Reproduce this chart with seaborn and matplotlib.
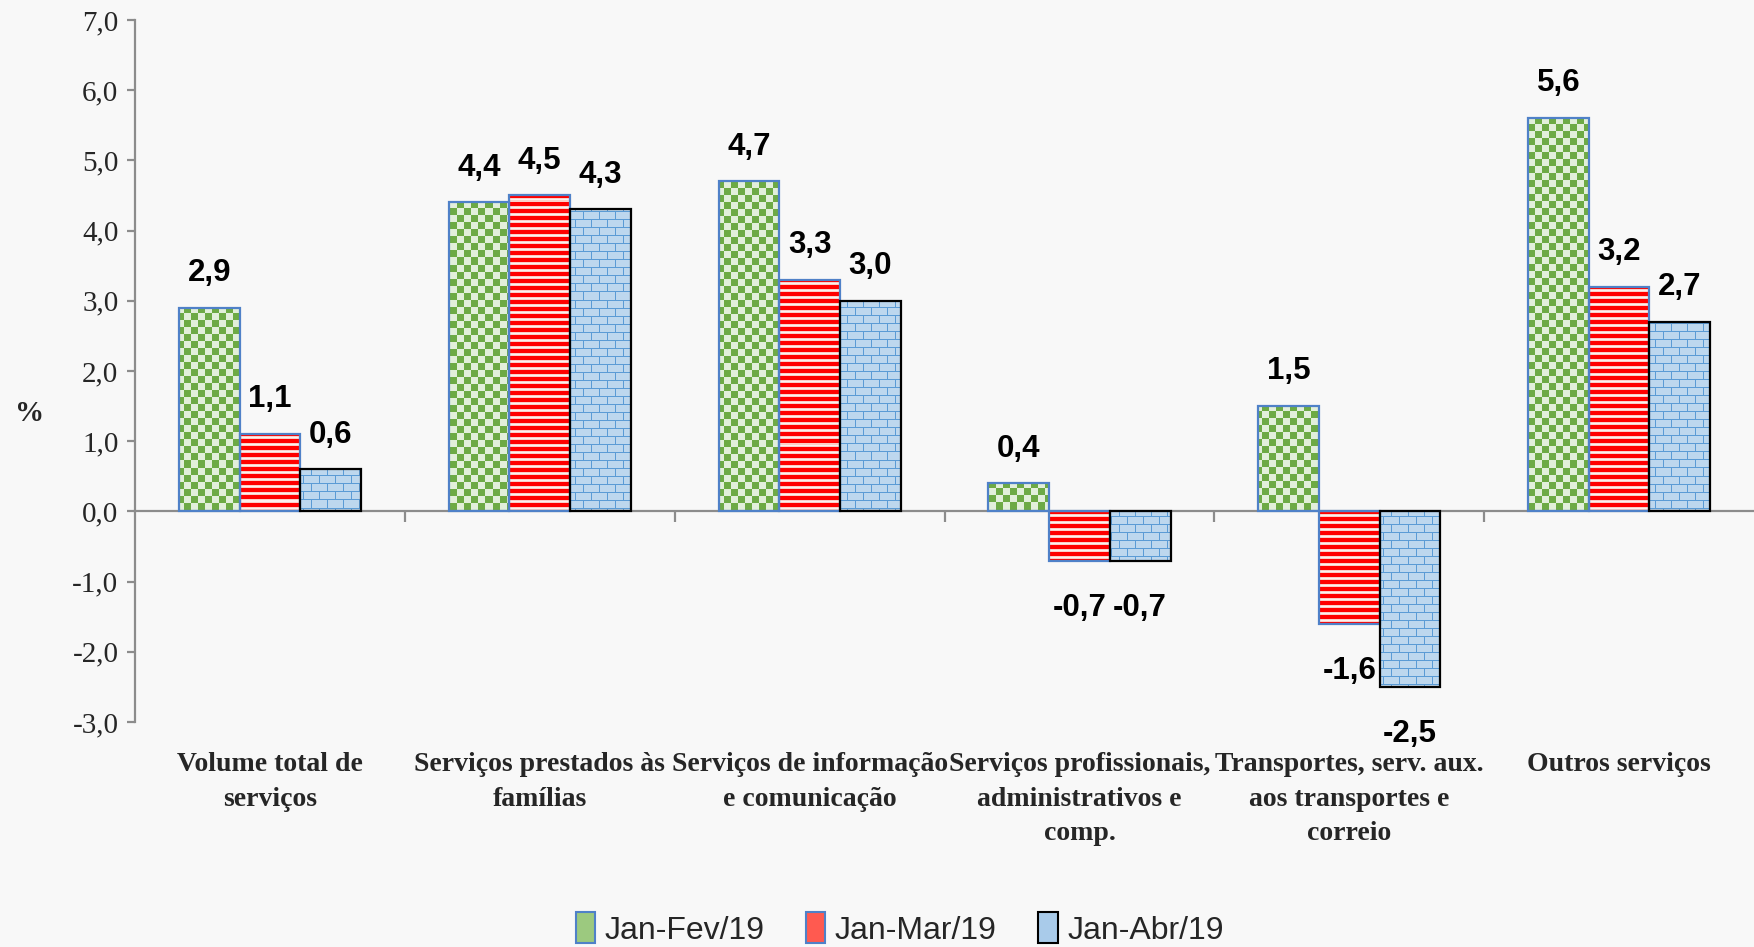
import numpy as np
import pandas as pd
import matplotlib
matplotlib.use("Agg")
import matplotlib.pyplot as plt
import seaborn as sns
from matplotlib.patches import Patch
from matplotlib.transforms import blended_transform_factory

# ---------------- data ----------------
categories = [
    "Volume total de\nserviços",
    "Serviços prestados às\nfamílias",
    "Serviços de informação\ne comunicação",
    "Serviços profissionais,\nadministrativos e\ncomp.",
    "Transportes, serv. aux.\naos transportes e\ncorreio",
    "Outros serviços",
]
periods = ["Jan-Fev/19", "Jan-Mar/19", "Jan-Abr/19"]
jan_fev = [2.9, 4.4, 4.7, 0.4, 1.5, 5.6]
jan_mar = [1.1, 4.5, 3.3, -0.7, -1.6, 3.2]
jan_abr = [0.6, 4.3, 3.0, -0.7, -2.5, 2.7]
y_ticks = [-3.0, -2.0, -1.0, 0.0, 1.0, 2.0, 3.0, 4.0, 5.0, 6.0, 7.0]
y_label = "%"

# ---------------- style ----------------
BG = "#F8F8F8"
FIG_W, FIG_H, DPI = 17.54, 9.47, 100
sns.set_theme(style="white")
plt.rcParams["font.family"] = ["Liberation Serif", "DejaVu Serif"]
SANS = ["Liberation Sans Narrow", "Liberation Sans", "DejaVu Sans"]
SERIF = ["Liberation Serif", "DejaVu Serif"]

fig = plt.figure(figsize=(FIG_W, FIG_H), dpi=DPI, facecolor=BG)
AX_L, AX_B, AX_W, AX_H = 0.077, 0.2376, 0.923, 0.7414
ax = fig.add_axes([AX_L, AX_B, AX_W, AX_H])
ax.set_facecolor(BG)

df = pd.DataFrame({
    "cat": categories * 3,
    "period": [p for p in periods for _ in categories],
    "val": jan_fev + jan_mar + jan_abr,
})

sns.barplot(data=df, x="cat", y="val", hue="period", order=categories,
            hue_order=periods, palette=["#E2EFDA", "#FBD5CF", "#BDD7EE"],
            saturation=1, width=0.675, errorbar=None, legend=False, ax=ax)

XL = (-0.5, len(categories) - 0.5)
YL = (y_ticks[0], y_ticks[-1])
ax.set_xlim(*XL)
ax.set_ylim(*YL)

# ---------------- textures ----------------
Hp = int(round(AX_H * FIG_H * DPI))
Wp = int(round(AX_W * FIG_W * DPI))
yy, xx = np.mgrid[0:Hp, 0:Wp]

def hex2rgb(h):
    h = h.lstrip("#")
    return np.array([int(h[i:i + 2], 16) / 255 for i in (0, 2, 4)])

def texture(kind):
    img = np.zeros((Hp, Wp, 3))
    if kind == 0:  # checkerboard
        m = ((yy // 7 + xx // 7) % 2) == 0
        img[:] = hex2rgb("#E2EFDA")
        img[m] = hex2rgb("#6DAA45")
    elif kind == 1:  # horizontal stripes
        r = yy % 7
        img[:] = hex2rgb("#FBCFC8")
        img[r < 4] = hex2rgb("#FF0000")
        img[r == 5] = hex2rgb("#FDF0EE")
    else:  # bricks
        row = yy // 8
        off = (row % 2) * 8
        m = ((yy % 8) == 0) | (((xx + off) % 16) == 0)
        img[:] = hex2rgb("#BDD7EE")
        img[m] = hex2rgb("#5B9BD5")
    return img

edge_colors = ["#4F81C8", "#4F81C8", "#000000"]
for i, cont in enumerate(ax.containers):
    tex = texture(i)
    for patch in cont.patches:
        patch.set_facecolor("none")
        patch.set_edgecolor(edge_colors[i])
        patch.set_linewidth(1.6)
        patch.set_zorder(3)
        im = ax.imshow(tex, extent=(XL[0], XL[1], YL[0], YL[1]), origin="upper",
                       interpolation="nearest", aspect="auto", zorder=2)
        im.set_clip_path(patch)

ax.set_xlim(*XL)
ax.set_ylim(*YL)

# data labels
for i, cont in enumerate(ax.containers):
    for patch, v in zip(cont.patches, [jan_fev, jan_mar, jan_abr][i]):
        xc = patch.get_x() + patch.get_width() / 2
        dy = 25 if v >= 0 else -34
        ax.annotate(f"{v:.1f}".replace(".", ","), xy=(xc, v), xytext=(0, dy),
                    textcoords="offset points", ha="center", va="center",
                    fontsize=22.5, fontweight="bold", family=SANS, color="black")

# ---------------- axes ----------------
for s in ["top", "right"]:
    ax.spines[s].set_visible(False)
ax.spines["left"].set_color("#8C8C8C")
ax.spines["left"].set_linewidth(1.6)
ax.spines["bottom"].set_position(("data", 0))
ax.spines["bottom"].set_color("#8C8C8C")
ax.spines["bottom"].set_linewidth(1.6)

ax.set_yticks(y_ticks)
ax.set_yticklabels([f"{t:.1f}".replace(".", ",") for t in y_ticks],
                   fontsize=21, family=SERIF)
ax.tick_params(axis="y", direction="out", length=6, width=1.6, color="#8C8C8C",
               pad=6, left=True)
ax.set_xticks(np.arange(0.5, len(categories) - 0.5, 1.0))
ax.set_xticklabels([])
ax.tick_params(axis="x", direction="out", length=8, width=1.6, color="#8C8C8C",
               bottom=True)
ax.set_xlabel("")
ax.set_ylabel("")

trans = blended_transform_factory(ax.transData, ax.transAxes)
for i, c in enumerate(categories):
    ax.text(i, -0.043, c, transform=trans, ha="center", va="top", fontsize=20,
            fontweight="bold", family=SERIF, linespacing=1.5)

fig.text(0.017, 0.563, y_label, fontsize=21, fontweight="bold", family=SERIF,
         ha="center", va="center")

handles = [
    Patch(facecolor="#9CC97F", edgecolor="#4F81C8", linewidth=1.5),
    Patch(facecolor="#FF5A50", edgecolor="#4F81C8", linewidth=1.5),
    Patch(facecolor="#A9CBEA", edgecolor="#000000", linewidth=1.5),
]
fig.legend(handles, periods, loc="center", bbox_to_anchor=(0.513, 0.019),
           ncol=3, frameon=False, handlelength=0.6, handleheight=1.1,
           handletextpad=0.3, columnspacing=1.3,
           prop={"family": SANS, "size": 23})

fig.savefig("out.png", dpi=DPI, facecolor=BG)
